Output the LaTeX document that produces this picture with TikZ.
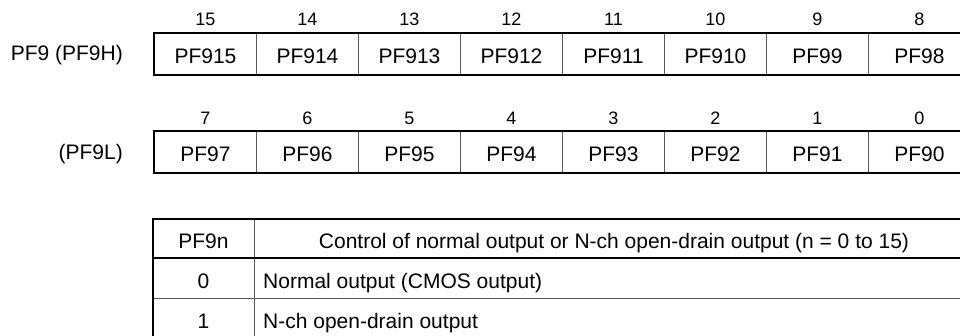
\documentclass[tikz,border=0pt]{standalone}
\usepackage{fontspec}
\setmainfont{Liberation Sans}
\usetikzlibrary{calc, positioning}

\tikzset{
  cellbox/.style={draw=gray!70!black, line width=0.9pt, minimum width=102pt,
    minimum height=41pt, inner sep=0pt, anchor=north west,
    text height=19pt, text depth=0pt, font=\fontsize{21}{21}\selectfont},
  bitnum/.style={inner sep=0pt, anchor=base, font=\fontsize{18}{18}\selectfont},
  regname/.style={inner sep=0pt, anchor=base east, font=\fontsize{21}{21}\selectfont},
  celltext/.style={inner sep=0pt, font=\fontsize{21}{21}\selectfont},
  thickrule/.style={line width=2.6pt, line cap=rect},
  thinrule/.style={draw=gray!70!black, line width=0.9pt}
}

\begin{document}
\begin{tikzpicture}[x=1pt, y=-1pt]
    \useasboundingbox (0,0) rectangle (960,335);
    \clip (0,0) rectangle (960,335);

    % Upper byte
    \foreach \b [count=\i from 0] in {15,...,8} {
        \node[cellbox] (hi\b) at (154+102*\i,33) {PF9\b};
        \node[bitnum] (nhi\b) at ($(hi\b.north)+(0,-8)$) {\b};
    }
    \draw[thickrule] (hi15.north west) rectangle (hi8.south east);
    \node[regname] (namehi) at (123,60) {PF9 (PF9H)};

    % Lower byte
    \foreach \b [count=\i from 0] in {7,...,0} {
        \node[cellbox] (lo\b) at (154+102*\i,131) {PF9\b};
        \node[bitnum] (nlo\b) at ($(lo\b.north)+(0,-7)$) {\b};
    }
    \draw[thickrule] (lo7.north west) rectangle (lo0.south east);
    \node[regname] (namelo) at (123,159) {(PF9L)};

    % Table
    \coordinate (tabTL) at (153,219);
    \coordinate (tabTR) at (975,219);
    \coordinate (tabBL) at (153,345);
    \coordinate (colT) at (254,219);
    \coordinate (colB) at (254,345);
    \coordinate (headL) at (153,258);
    \coordinate (headR) at (975,258);
    \coordinate (rowL) at (153,298);
    \coordinate (rowR) at (975,298);

    \draw[thinrule] (colT) -- (colB);
    \draw[thinrule] (rowL) -- (rowR);
    \draw[thickrule] (tabTR) -- (tabTL) -- (tabBL);
    \draw[thickrule] (headL) -- (headR);

    \node[celltext, anchor=base] (hdbit) at (203.5,248) {PF9n};
    \node[celltext, anchor=base] (hdfunc) at (614,248) {Control of normal output or N-ch open-drain output (n = 0 to 15)};
    \node[celltext, anchor=base] (val0) at (203.5,288) {0};
    \node[celltext, anchor=base west] (txt0) at (263,288) {Normal output (CMOS output)};
    \node[celltext, anchor=base] (val1) at (203.5,328) {1};
    \node[celltext, anchor=base west] (txt1) at (263,328) {N-ch open-drain output};
\end{tikzpicture}
\end{document}
